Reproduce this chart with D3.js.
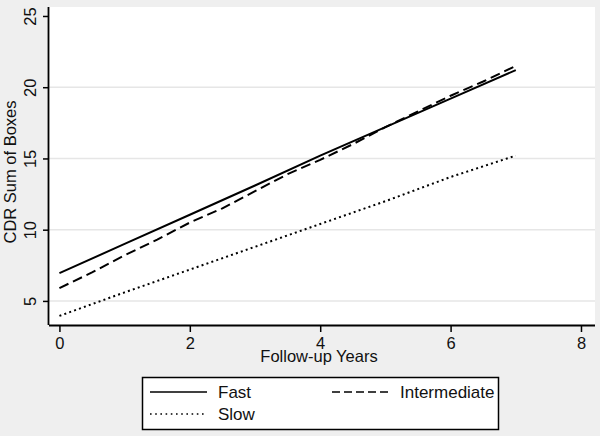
<!DOCTYPE html>
<html>
<head>
<meta charset="utf-8">
<script src="https://cdn.jsdelivr.net/npm/d3@7"></script>
<style>
  html, body { margin: 0; padding: 0; background: #efefef; }
  svg { display: block; font-family: "Liberation Sans", Arial, sans-serif; }
</style>
</head>
<body>
<svg id="chart" width="600" height="436"></svg>
<script>
// CDR sum of boxes by progression group

const years = [0, 1, 2, 3, 4, 5, 6, 7];
const fast = [6.95, 9.0, 11.05, 13.1, 15.2, 17.2, 19.2, 21.2];
const slow = [3.95, 5.6, 7.2, 8.8, 10.4, 12.0, 13.7, 15.2];

const interYears = [0, 0.5, 1, 1.5, 2, 2.5, 3, 3.5, 4, 4.5, 5, 5.5, 6, 6.5, 7];
const intermediate = [5.9, 7.0, 8.2, 9.3, 10.5, 11.5, 12.7, 13.9, 14.9, 16.0, 17.2, 18.3, 19.4, 20.4, 21.5];

const xTicks = [0, 2, 4, 6, 8];
const yTicks = [5, 10, 15, 20, 25];
const gridTicks = [5, 10, 15, 20];

const seriesList = [
  { name: 'Fast', x: years, y: fast, dash: null },
  { name: 'Intermediate', x: interYears, y: intermediate, dash: '10,5' },
  { name: 'Slow', x: years, y: slow, dash: '2,3.2' },
];

const svg = d3.select('#chart');
const plot = { left: 49, right: 595, top: 7, bottom: 325 };

const x = d3.scaleLinear().domain([-0.16, 8.215]).range([plot.left, plot.right]);
const y = d3.scaleLinear().domain([3.31, 25.63]).range([plot.bottom, plot.top]);

// plot region
svg.append('rect')
  .attr('x', plot.left).attr('y', plot.top)
  .attr('width', plot.right - plot.left).attr('height', plot.bottom - plot.top)
  .attr('fill', '#fff');

// gridlines
svg.append('g').selectAll('line')
  .data(gridTicks)
  .join('line')
  .attr('x1', plot.left).attr('x2', plot.right)
  .attr('y1', d => y(d)).attr('y2', d => y(d))
  .attr('stroke', '#e6e6e6').attr('stroke-width', 1.5);

// axes
const xAxis = svg.append('g')
  .attr('transform', `translate(0,${plot.bottom})`)
  .call(d3.axisBottom(x).tickValues(xTicks).tickSize(7).tickPadding(5).tickFormat(d3.format('d')));
xAxis.select('.domain').attr('d', `M${plot.left},0.5H${plot.right}`).attr('stroke-width', 1.8);
xAxis.selectAll('.tick line').attr('stroke-width', 1.5);
xAxis.selectAll('.tick text').attr('font-size', 16.5).attr('fill', '#111').attr('font-family', null);

const yAxis = svg.append('g')
  .attr('transform', `translate(${plot.left},0)`)
  .call(d3.axisLeft(y).tickValues(yTicks).tickSize(6).tickFormat(d3.format('d')));
yAxis.select('.domain').attr('d', `M-0.5,${plot.top}V${plot.bottom}`).attr('stroke-width', 1.8);
yAxis.selectAll('.tick line').attr('stroke-width', 1.5);
yAxis.selectAll('.tick text')
  .attr('font-size', 16.5).attr('fill', '#111').attr('font-family', null)
  .attr('x', null).attr('dy', null)
  .attr('text-anchor', 'middle')
  .attr('transform', 'translate(-13,0) rotate(-90)');

// axis titles
svg.append('text')
  .attr('x', 319).attr('y', 362)
  .attr('text-anchor', 'middle').attr('font-size', 16.5).attr('fill', '#111')
  .text('Follow-up Years');

svg.append('text')
  .attr('transform', 'translate(16,172) rotate(-90)')
  .attr('text-anchor', 'middle').attr('font-size', 16.5).attr('fill', '#111')
  .text('CDR Sum of Boxes');

// lines
const line = d3.line().x(d => x(d[0])).y(d => y(d[1]));
svg.append('g').selectAll('path')
  .data(seriesList)
  .join('path')
  .attr('d', s => line(s.x.map((v, i) => [v, s.y[i]])))
  .attr('fill', 'none')
  .attr('stroke', '#000')
  .attr('stroke-width', 2)
  .attr('stroke-dasharray', s => s.dash);

// legend
const legend = svg.append('g');
legend.append('rect')
  .attr('x', 142.5).attr('y', 377.5).attr('width', 356).attr('height', 52)
  .attr('fill', '#fff').attr('stroke', '#000').attr('stroke-width', 1.5);

const legendPos = [
  { sx: 150, tx: 218, ly: 392 },
  { sx: 332, tx: 400, ly: 392 },
  { sx: 150, tx: 218, ly: 414 },
];
const legendDash = [null, '8,4', '1.6,3.6'];

seriesList.forEach((s, i) => {
  const p = legendPos[i];
  legend.append('line')
    .attr('x1', p.sx).attr('x2', p.sx + 57)
    .attr('y1', p.ly).attr('y2', p.ly)
    .attr('stroke', '#000').attr('stroke-width', 1.6)
    .attr('stroke-dasharray', legendDash[i]);
  legend.append('text')
    .attr('x', p.tx).attr('y', p.ly + 6)
    .attr('font-size', 17).attr('fill', '#111')
    .text(s.name);
});
</script>
</body>
</html>
